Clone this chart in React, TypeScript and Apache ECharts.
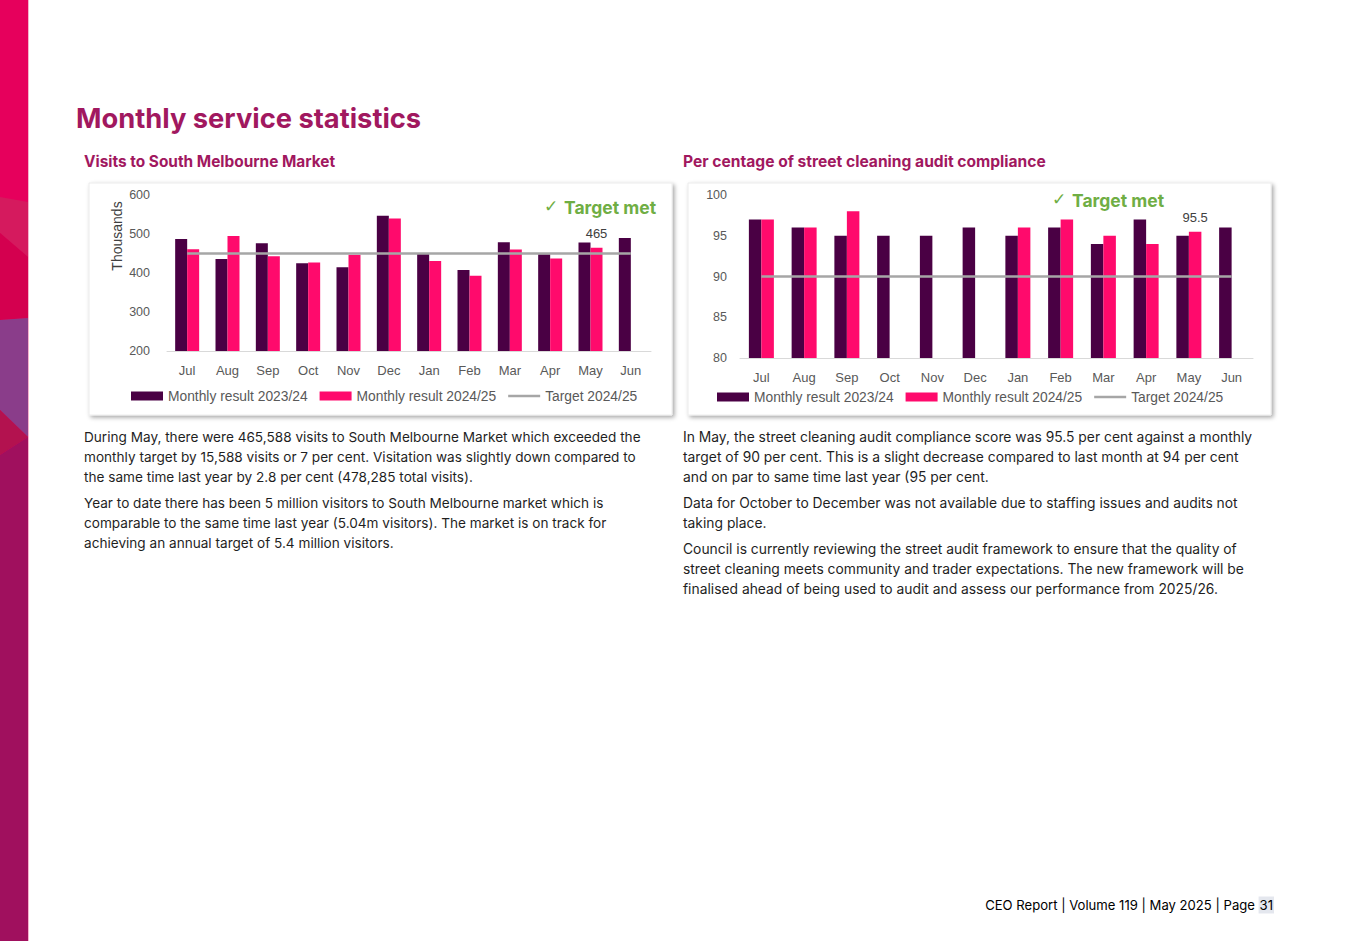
import React, { useEffect, useRef } from "react";
import * as echarts from "echarts";

const months = ["Jul", "Aug", "Sep", "Oct", "Nov", "Dec", "Jan", "Feb", "Mar", "Apr", "May", "Jun"];

// Visits to South Melbourne Market (thousands)
const visits2324 = [487, 436, 476, 425, 415, 547, 449, 408, 479, 448, 478, 490];
const visits2425 = [461, 495, 443, 427, 447, 540, 431, 393, 460, 437, 465, null];
const visitsTarget = [450, 450, 450, 450, 450, 450, 450, 450, 450, 450, 450, 450];
const visitsAxis = { min: 200, max: 600, interval: 100 };

// Street cleaning audit compliance (%)
const clean2324 = [97, 96, 95, 95, 95, 96, 95, 96, 94, 97, 95, 96];
const clean2425 = [97, 96, 98, null, null, null, 96, 97, 95, 94, 95.5, null];
const cleanTarget = [90, 90, 90, 90, 90, 90, 90, 90, 90, 90, 90, 90];
const cleanAxis = { min: 80, max: 100, interval: 5 };

const seriesNames = ["Monthly result 2023/24", "Monthly result 2024/25", "Target 2024/25"];
const labelledMonth = "May";

const leftText = [
  "During May, there were 465,588 visits to South Melbourne Market which exceeded the",
  "monthly target by 15,588 visits or 7 per cent. Visitation was slightly down compared to",
  "the same time last year by 2.8 per cent (478,285 total visits).",
  "Year to date there has been 5 million visitors to South Melbourne market which is",
  "comparable to the same time last year (5.04m visitors). The market is on track for",
  "achieving an annual target of 5.4 million visitors.",
];
const leftTextY = [437, 457, 477, 503, 523, 543];

const rightText = [
  "In May, the street cleaning audit compliance score was 95.5 per cent against a monthly",
  "target of 90 per cent. This is a slight decrease compared to last month at 94 per cent",
  "and on par to same time last year (95 per cent.",
  "Data for October to December was not available due to staffing issues and audits not",
  "taking place.",
  "Council is currently reviewing the street audit framework to ensure that the quality of",
  "street cleaning meets community and trader expectations. The new framework will be",
  "finalised ahead of being used to audit and assess our performance from 2025/26.",
];
const rightTextY = [437, 457, 477, 503, 523, 549, 569, 589];

const DARK = "#4A0044";
const PINK = "#FF0A6C";
const GREY = "#A6A6A6";
const MAGENTA = "#A1185F";
const GREEN = "#6FAE44";
const AXIS_FONT = "Liberation Sans";
const BODY_FONT = "Inter";

export default function App() {
  const ref = useRef<HTMLDivElement>(null);

  useEffect(() => {
    if (!ref.current) return;
    const chart = echarts.init(ref.current, undefined, { renderer: "svg" });
    const mayIdx = months.indexOf(labelledMonth);

    const labelled = (arr: (number | null)[], fmt: string) =>
      arr.map((v, i) =>
        i === mayIdx
          ? {
              value: v,
              label: {
                show: true,
                position: "top",
                distance: 8,
                formatter: fmt,
                color: "#404040",
                fontSize: 13,
                fontFamily: AXIS_FONT,
              },
            }
          : v
      );

    const bodyLines = (lines: string[], ys: number[], x: number, size: number) =>
      lines.map((t, i) => ({
        type: "text",
        x,
        y: ys[i],
        style: {
          text: t,
          fill: "#1f1f1f",
          fontSize: size,
          fontFamily: BODY_FONT,
          align: "left",
          verticalAlign: "middle",
        },
      }));

    const legendCommon = {
      itemWidth: 32,
      itemHeight: 9,
      itemGap: 12,
      padding: 0,
      textStyle: { color: "#595959", fontSize: 13.8, fontFamily: AXIS_FONT },
      data: [
        { name: seriesNames[0], icon: "rect" },
        { name: seriesNames[1], icon: "rect" },
        { name: seriesNames[2], icon: "path://M0,0L32,0L32,2.5L0,2.5Z" },
      ],
    };

    const option: any = {
      animation: false,
      backgroundColor: "#ffffff",
      graphic: [
        // left decorative stripe
        { type: "rect", shape: { x: 0, y: 0, width: 28, height: 941 }, style: { fill: "#E6005C" }, z: 0 },
        { type: "polygon", shape: { points: [[0, 197], [28, 202], [28, 257], [0, 233]] }, style: { fill: "#D51A5E" }, z: 0 },
        { type: "polygon", shape: { points: [[0, 233], [28, 257], [28, 318], [0, 320]] }, style: { fill: "#D4004F" }, z: 0 },
        { type: "polygon", shape: { points: [[0, 320], [28, 318], [28, 437], [0, 410]] }, style: { fill: "#8A3D8A" }, z: 0 },
        { type: "polygon", shape: { points: [[0, 410], [28, 437], [0, 455]] }, style: { fill: "#B3124F" }, z: 0 },
        { type: "polygon", shape: { points: [[0, 455], [28, 437], [28, 941], [0, 941]] }, style: { fill: "#A0105E" }, z: 0 },
        { type: "line", shape: { x1: 28.5, y1: 0, x2: 28.5, y2: 941 }, style: { stroke: "#F6B3CC", lineWidth: 1 }, z: 0 },
        // chart boxes
        {
          type: "rect",
          shape: { x: 89, y: 183, width: 583, height: 232 },
          style: { fill: "#fff", stroke: "#ececec", lineWidth: 1, shadowBlur: 4, shadowOffsetX: 2, shadowOffsetY: 2, shadowColor: "rgba(0,0,0,0.35)" },
          z: 0,
        },
        {
          type: "rect",
          shape: { x: 688, y: 183, width: 583, height: 232 },
          style: { fill: "#fff", stroke: "#ececec", lineWidth: 1, shadowBlur: 4, shadowOffsetX: 2, shadowOffsetY: 2, shadowColor: "rgba(0,0,0,0.35)" },
          z: 0,
        },
        // headings
        {
          type: "text",
          x: 76,
          y: 118,
          style: { text: "Monthly service statistics", fill: MAGENTA, fontSize: 27.3, fontWeight: "bold", fontFamily: BODY_FONT, align: "left", verticalAlign: "middle" },
        },
        {
          type: "text",
          x: 84,
          y: 161,
          style: { text: "Visits to South Melbourne Market", fill: MAGENTA, fontSize: 15.4, fontWeight: "bold", fontFamily: BODY_FONT, align: "left", verticalAlign: "middle" },
        },
        {
          type: "text",
          x: 683,
          y: 161,
          style: { text: "Per centage of street cleaning audit compliance", fill: MAGENTA, fontSize: 15.6, fontWeight: "bold", fontFamily: BODY_FONT, align: "left", verticalAlign: "middle" },
        },
        // y axis name (left)
        {
          type: "text",
          x: 117,
          y: 236,
          rotation: Math.PI / 2,
          style: { text: "Thousands", fill: "#404040", fontSize: 14, fontFamily: AXIS_FONT, align: "center", verticalAlign: "middle" },
        },
        // target met badges
        {
          type: "text",
          x: 544,
          y: 206,
          style: { text: "✓", fill: GREEN, fontSize: 17, fontFamily: "DejaVu Sans", align: "left", verticalAlign: "middle" },
        },
        {
          type: "text",
          x: 564,
          y: 207,
          style: { text: "Target met", fill: GREEN, fontSize: 17.5, fontWeight: "bold", fontFamily: BODY_FONT, align: "left", verticalAlign: "middle" },
        },
        {
          type: "text",
          x: 1052,
          y: 199,
          style: { text: "✓", fill: GREEN, fontSize: 17, fontFamily: "DejaVu Sans", align: "left", verticalAlign: "middle" },
        },
        {
          type: "text",
          x: 1072,
          y: 200,
          style: { text: "Target met", fill: GREEN, fontSize: 17.5, fontWeight: "bold", fontFamily: BODY_FONT, align: "left", verticalAlign: "middle" },
        },
        ...bodyLines(leftText, leftTextY, 84, 13.6),
        ...bodyLines(rightText, rightTextY, 683, 13.85),
        // footer
        {
          type: "text",
          x: 1274,
          y: 905,
          style: {
            text: "{a|CEO Report | Volume 119 | May 2025 | Page }{p|31}",
            align: "right",
            verticalAlign: "middle",
            rich: {
              a: { color: "#2b2b2b", fontSize: 13.1, fontFamily: BODY_FONT },
              p: { color: "#4A6FA8", fontSize: 13.1, fontFamily: BODY_FONT, backgroundColor: "#E4E7EE", padding: [2, 1, 2, 1] },
            },
          },
        },
      ],
      legend: [
        { ...legendCommon, left: 131, top: 389 },
        { ...legendCommon, left: 717, top: 390 },
      ],
      grid: [
        { left: 167, top: 195, width: 484, height: 156, containLabel: false },
        { left: 740, top: 195, width: 513, height: 163, containLabel: false },
      ],
      xAxis: [0, 1].map((g) => ({
        type: "category",
        gridIndex: g,
        data: months,
        axisTick: { show: false },
        axisLine: { lineStyle: { color: "#D9D9D9", width: 1 } },
        axisLabel: { color: "#595959", fontSize: 13, fontFamily: AXIS_FONT, margin: 13 },
      })),
      yAxis: [
        {
          type: "value",
          gridIndex: 0,
          ...visitsAxis,
          splitLine: { show: false },
          axisLine: { show: false },
          axisTick: { show: false },
          axisLabel: { color: "#595959", fontSize: 12.5, fontFamily: AXIS_FONT, margin: 17 },
        },
        {
          type: "value",
          gridIndex: 1,
          ...cleanAxis,
          splitLine: { show: false },
          axisLine: { show: false },
          axisTick: { show: false },
          axisLabel: { color: "#595959", fontSize: 12.5, fontFamily: AXIS_FONT, margin: 13 },
        },
      ],
      series: [
        { name: seriesNames[0], type: "bar", xAxisIndex: 0, yAxisIndex: 0, data: visits2324, barWidth: 12, barGap: "0%", itemStyle: { color: DARK } },
        { name: seriesNames[1], type: "bar", xAxisIndex: 0, yAxisIndex: 0, data: labelled(visits2425, "{c}"), barWidth: 12, barGap: "0%", itemStyle: { color: PINK } },
        { name: seriesNames[2], type: "line", xAxisIndex: 0, yAxisIndex: 0, data: visitsTarget, symbol: "none", lineStyle: { color: GREY, width: 2.5 }, itemStyle: { color: GREY }, z: 5 },
        { name: seriesNames[0], type: "bar", xAxisIndex: 1, yAxisIndex: 1, data: clean2324, barWidth: 12.5, barGap: "0%", itemStyle: { color: DARK } },
        { name: seriesNames[1], type: "bar", xAxisIndex: 1, yAxisIndex: 1, data: labelled(clean2425, "{c}"), barWidth: 12.5, barGap: "0%", itemStyle: { color: PINK } },
        { name: seriesNames[2], type: "line", xAxisIndex: 1, yAxisIndex: 1, data: cleanTarget, symbol: "none", lineStyle: { color: GREY, width: 2.5 }, itemStyle: { color: GREY }, z: 5 },
      ],
    };

    chart.setOption(option);
    return () => chart.dispose();
  }, []);

  return (
    <div
      ref={ref}
      style={{ position: "absolute", left: 0, top: 0, width: 1347, height: 941, background: "#fff" }}
    />
  );
}
